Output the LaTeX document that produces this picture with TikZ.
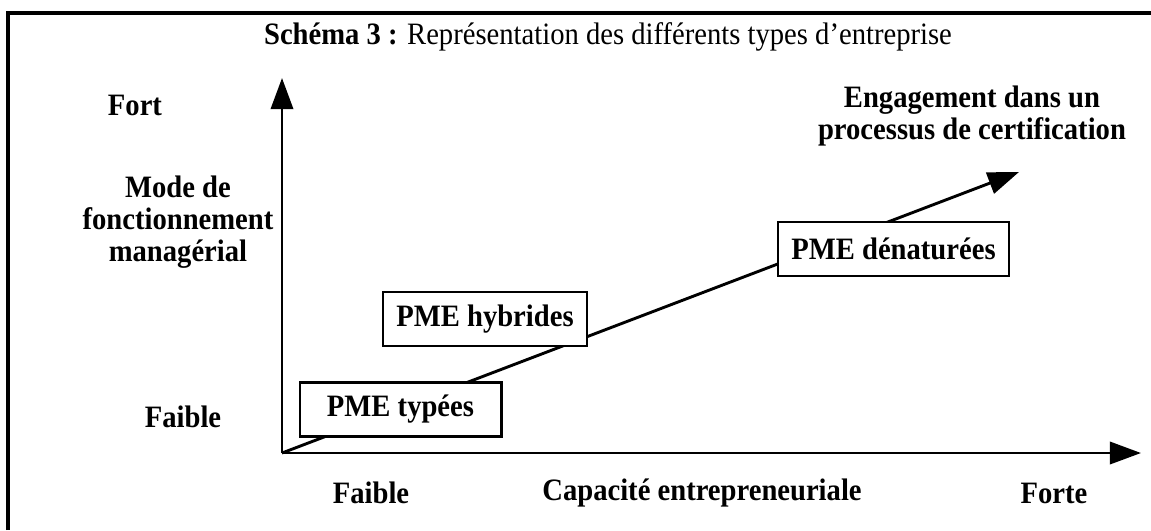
\documentclass[tikz,border=0pt]{standalone}
\usepackage{fontspec}
\setmainfont[FakeStretch=0.92]{Liberation Serif}
\usetikzlibrary{arrows.meta}

\begin{document}
\fontsize{14}{14.4}\selectfont
\begin{tikzpicture}[x=0.45pt,y=-0.45pt,
  pmebox/.style={draw,line width=1.3pt,fill=white,font=\bfseries,
    minimum height=24.3pt,inner xsep=6pt},
  axlabel/.style={font=\bfseries,inner sep=0pt,align=center},
  fleche/.style={line width=1.3pt,-{Triangle[length=14pt,width=10pt]}}]
\useasboundingbox (0,0) rectangle (1151,530);
\draw [line width=1.7pt] (8,530) -- (8,13) -- (1151,13);
\node (titre) at (608,37) {\textbf{Schéma 3 :} Représentation des différents types d’entreprise};
% axes
\coordinate (O) at (282,453);
\coordinate (haut) at (282,78);
\coordinate (droite) at (1141,453);
\coordinate (fin) at (1019,172);
\draw [fleche] (O) -- (haut);
\draw [fleche] (O) -- (droite);
\draw [fleche] (O) -- (fin);
% boites
\node [pmebox,minimum width=90.5pt] (typees) at (400.5,409.5) {PME typées};
\node [pmebox,minimum width=89pt] (hybrides) at (485,319) {PME hybrides};
\node [pmebox,minimum width=97.6pt] (denat) at (893.5,249) {PME dénaturées};
% textes
\node [axlabel] (fort) at (135,105) {Fort};
\node [axlabel] (mode) at (178,222) {Mode de\\fonctionnement\\managérial};
\node [axlabel] (faibleY) at (183,417) {Faible};
\node [axlabel] (faibleX) at (371,493) {Faible};
\node [axlabel] (capacite) at (702,493) {Capacité entrepreneuriale};
\node [axlabel] (forte) at (1054,493) {Forte};
\node [axlabel] (engag) at (972,116) {Engagement dans un\\processus de certification};
\end{tikzpicture}
\end{document}
